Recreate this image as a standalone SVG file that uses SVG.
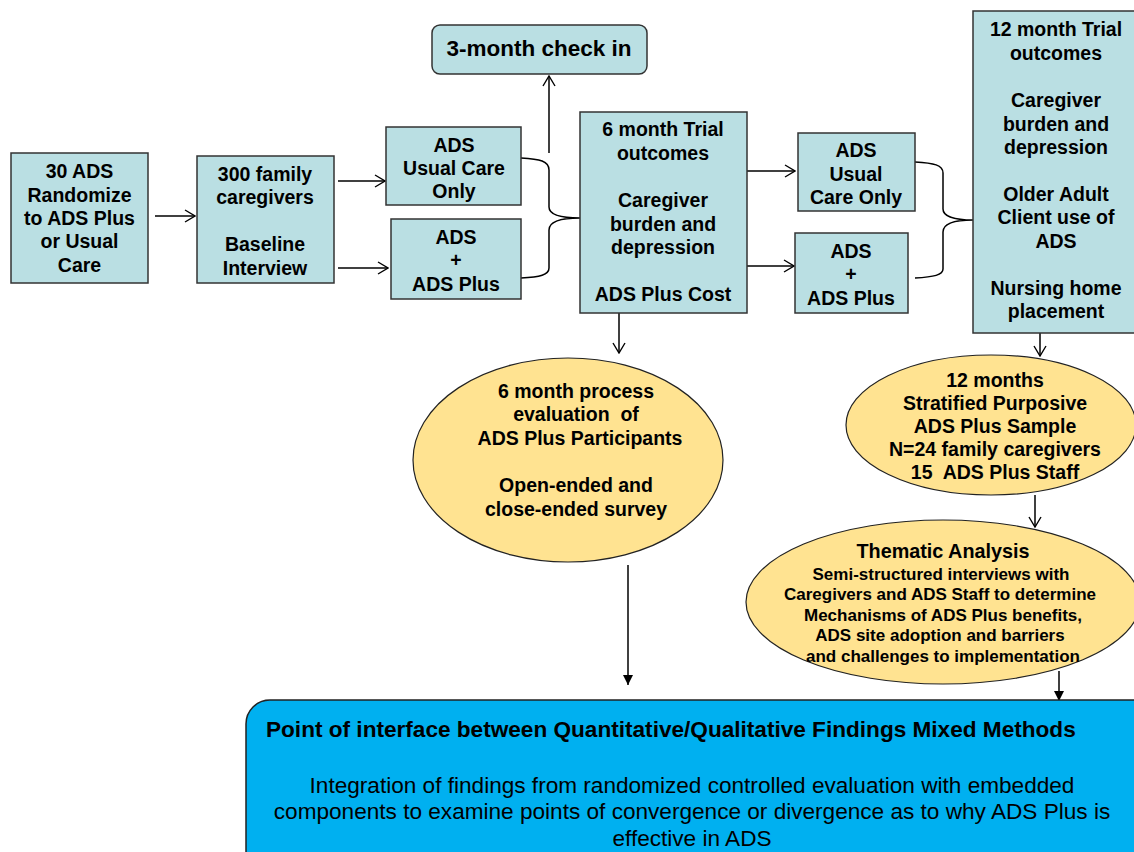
<svg xmlns="http://www.w3.org/2000/svg" width="1134" height="852" viewBox="0 0 1134 852">
<style>
.box{fill:#BADFE3;stroke:#333;stroke-width:1.5}
.ell{fill:#FFE391;stroke:#222;stroke-width:1.2}
.t{font-family:"Liberation Sans",Arial,sans-serif;font-weight:bold;font-size:19.5px;fill:#000;text-anchor:middle}
.ts{font-family:"Liberation Sans",Arial,sans-serif;font-weight:bold;font-size:17px;fill:#000;text-anchor:middle}
.tn{font-family:"Liberation Sans",Arial,sans-serif;font-size:22.6px;fill:#000;text-anchor:middle}
.c{fill:none;stroke:#000;stroke-width:1.5}
</style>
<defs>
<marker id="open" viewBox="0 0 12 14" refX="11" refY="7" markerWidth="12" markerHeight="14" markerUnits="userSpaceOnUse" orient="auto">
<path d="M1,1 L11,7 L1,13" fill="none" stroke="#000" stroke-width="1.4"/>
</marker>
<marker id="fill" viewBox="0 0 10 10" refX="10" refY="5" markerWidth="10" markerHeight="10" markerUnits="userSpaceOnUse" orient="auto">
<path d="M0,0 L10,5 L0,10 Z" fill="#000"/>
</marker>
</defs>
<rect width="1134" height="852" fill="#fff"/>
<g id="connectors">
<line class="c" x1="155" y1="216" x2="195" y2="216" marker-end="url(#open)"/>
<line class="c" x1="338" y1="181" x2="385" y2="181" marker-end="url(#open)"/>
<line class="c" x1="338" y1="268" x2="388" y2="268" marker-end="url(#open)"/>
<line class="c" x1="549" y1="153" x2="549" y2="76" marker-end="url(#open)"/>
<path class="c" d="M521,158 C540,159 549,161 549,170 L549,207 C549,214 560,218 580,218 C560,218 549,222 549,230 L549,268 C549,275 540,277 521,278"/>
<line class="c" x1="747" y1="171" x2="795" y2="171" marker-end="url(#open)"/>
<line class="c" x1="747" y1="266" x2="794" y2="266" marker-end="url(#open)"/>
<path class="c" d="M915,162 C934,163 943,165 943,173 L943,209 C943,216 954,220 973,220 C954,220 943,224 943,232 L943,269 C943,275 934,277 915,278"/>
<line class="c" x1="619" y1="313" x2="619" y2="353" marker-end="url(#open)"/>
<line class="c" x1="1040" y1="333" x2="1040" y2="356" marker-end="url(#open)"/>
<line class="c" x1="1035" y1="495" x2="1035" y2="527" marker-end="url(#open)"/>
<line class="c" x1="628" y1="565" x2="628" y2="685" marker-end="url(#fill)"/>
<line class="c" x1="1059" y1="671" x2="1059" y2="701" marker-end="url(#fill)"/>
</g>
<g id="n-30ads">
<rect class="box" x="11" y="153" width="137" height="130"/>
<text class="t" x="79.5" y="178">30 ADS</text>
<text class="t" x="79.5" y="202">Randomize</text>
<text class="t" x="79.5" y="225">to ADS Plus</text>
<text class="t" x="79.5" y="248">or Usual</text>
<text class="t" x="79.5" y="272">Care</text>
</g>
<g id="n-300">
<rect class="box" x="197" y="156" width="137" height="127"/>
<text class="t" x="265" y="181">300 family</text>
<text class="t" x="265" y="204">caregivers</text>
<text class="t" x="265" y="251">Baseline</text>
<text class="t" x="265" y="275">Interview</text>
</g>
<g id="n-usual1">
<rect class="box" x="386" y="127" width="135" height="78"/>
<text class="t" x="454" y="152">ADS</text>
<text class="t" x="454" y="175">Usual Care</text>
<text class="t" x="454" y="198">Only</text>
</g>
<g id="n-plus1">
<rect class="box" x="391" y="219" width="130" height="80"/>
<text class="t" x="456" y="244">ADS</text>
<text class="t" x="456" y="267">+</text>
<text class="t" x="456" y="291">ADS Plus</text>
</g>
<g id="n-3month">
<rect class="box" x="432" y="25" width="215" height="49" rx="8"/>
<text class="t" x="539" y="56" style="font-size:22.5px">3-month check in</text>
</g>
<g id="n-6month">
<rect class="box" x="580" y="112" width="167" height="201"/>
<text class="t" x="663" y="136">6 month Trial</text>
<text class="t" x="663" y="160">outcomes</text>
<text class="t" x="663" y="207">Caregiver</text>
<text class="t" x="663" y="231">burden and</text>
<text class="t" x="663" y="254">depression</text>
<text class="t" x="663" y="301">ADS Plus Cost</text>
</g>
<g id="n-usual2">
<rect class="box" x="798" y="133" width="117" height="78"/>
<text class="t" x="856" y="157">ADS</text>
<text class="t" x="856" y="181">Usual</text>
<text class="t" x="856" y="204">Care Only</text>
</g>
<g id="n-plus2">
<rect class="box" x="795" y="233" width="113" height="80"/>
<text class="t" x="851" y="258">ADS</text>
<text class="t" x="851" y="281">+</text>
<text class="t" x="851" y="305">ADS Plus</text>
</g>
<g id="n-12month">
<rect class="box" x="973" y="11" width="180" height="322"/>
<text class="t" x="1056" y="36">12 month Trial</text>
<text class="t" x="1056" y="60">outcomes</text>
<text class="t" x="1056" y="107">Caregiver</text>
<text class="t" x="1056" y="131">burden and</text>
<text class="t" x="1056" y="154">depression</text>
<text class="t" x="1056" y="201">Older Adult</text>
<text class="t" x="1056" y="224">Client use of</text>
<text class="t" x="1056" y="248">ADS</text>
<text class="t" x="1056" y="295">Nursing home</text>
<text class="t" x="1056" y="318">placement</text>
</g>
<g id="n-process">
<ellipse class="ell" cx="568" cy="460" rx="155" ry="102"/>
<text class="t" x="576" y="398">6 month process</text>
<text class="t" x="576" y="421" xml:space="preserve">evaluation  of</text>
<text class="t" x="580" y="445">ADS Plus Participants</text>
<text class="t" x="576" y="492">Open-ended and</text>
<text class="t" x="576" y="516">close-ended survey</text>
</g>
<g id="n-sample">
<ellipse class="ell" cx="991" cy="425" rx="145" ry="70"/>
<text class="t" x="995" y="387">12 months</text>
<text class="t" x="995" y="410">Stratified Purposive</text>
<text class="t" x="995" y="433">ADS Plus Sample</text>
<text class="t" x="995" y="456">N=24 family caregivers</text>
<text class="t" x="995" y="479" xml:space="preserve">15  ADS Plus Staff</text>
</g>
<g id="n-thematic">
<ellipse class="ell" cx="943" cy="602" rx="197" ry="82"/>
<text class="t" x="943" y="558" style="font-size:19.8px">Thematic Analysis</text>
<text class="ts" x="941" y="580">Semi-structured interviews with</text>
<text class="ts" x="940" y="600">Caregivers and ADS Staff to determine</text>
<text class="ts" x="943" y="621">Mechanisms of ADS Plus benefits,</text>
<text class="ts" x="940" y="641">ADS site adoption and barriers</text>
<text class="ts" x="943" y="662">and challenges to implementation</text>
</g>
<g id="n-interface">
<rect x="246" y="700" width="920" height="190" rx="24" fill="#00B0F0" stroke="#222" stroke-width="1.5"/>
<text class="t" x="266" y="737" style="font-size:22.6px;text-anchor:start">Point of interface between Quantitative/Qualitative Findings Mixed Methods</text>
<text class="tn" x="692" y="793">Integration of findings from randomized controlled evaluation with embedded</text>
<text class="tn" x="692" y="819">components to examine points of convergence or divergence as to why ADS Plus is</text>
<text class="tn" x="692" y="846">effective in ADS</text>
</g>
</svg>
